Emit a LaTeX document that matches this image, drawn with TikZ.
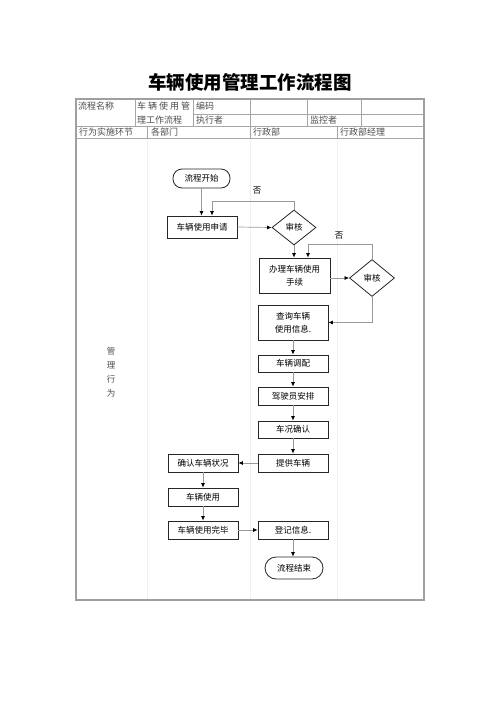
\documentclass[tikz,border=0pt]{standalone}
\usepackage{fontspec}
\setmainfont{Noto Sans CJK SC}
\usetikzlibrary{shapes.geometric,arrows.meta}
\begin{document}
\begin{tikzpicture}[x=1pt,y=-1pt,
  frame/.style={draw=gray!75,line width=1.1pt},
  grid/.style={draw=gray!70,line width=0.6pt},
  lane/.style={draw=gray!12,line width=0.8pt},
  tabtext/.style={anchor=west,inner sep=0pt,text=black!70,font=\fontsize{9}{11}\selectfont},
  box/.style={draw=black!85,line width=0.8pt,fill=white,inner sep=1pt,align=center,
    font=\fontsize{8.5}{13}\selectfont,minimum width=70pt,minimum height=18pt},
  term/.style={box,rounded corners=9pt},
  check/.style={diamond,draw=black!85,line width=0.8pt,fill=white,inner sep=0pt,aspect=1.25,
    font=\fontsize{8.5}{10}\selectfont,minimum width=44pt,minimum height=35pt},
  arr/.style={draw=gray!80,line width=0.7pt,-{Latex[length=4.5pt,width=4pt,color=black]}},
  lbl/.style={inner sep=0pt,font=\fontsize{8.5}{10}\selectfont}
]
\useasboundingbox (0,0) rectangle (500,707);
% title
\node[inner sep=0pt,font=\bfseries\fontsize{18.5}{20}\selectfont] (title) at (250,82) {车辆使用管理工作流程图};
% lanes
\draw[lane] (147,138) -- (147,600);
\draw[lane] (250,138) -- (250,600);
\draw[lane] (337,138) -- (337,600);
% table grid
\draw[grid] (193,114) -- (424,114);
\draw[grid] (76,126) -- (424,126);
\draw[grid] (76,138) -- (424,138);
\foreach \x in {135,193,250,307,361} \draw[grid] (\x,99) -- (\x,126);
\foreach \x in {147,250,337} \draw[grid] (\x,126) -- (\x,138);
\draw[frame] (76,99) rectangle (424,600);
% table texts
\node[tabtext] (t1) at (78,106.5) {流程名称};
\node[tabtext] (t2) at (137,106.5) {\makebox[53pt][s]{车\hfill 辆\hfill 使\hfill 用\hfill 管}};
\node[tabtext] (t3) at (137,120) {理工作流程};
\node[tabtext] (t4) at (196,106.5) {编码};
\node[tabtext] (t5) at (196,120) {执行者};
\node[tabtext] (t6) at (310,120) {监控者};
\node[tabtext] (t7) at (79,132) {行为实施环节};
\node[tabtext] (t8) at (151,132) {各部门};
\node[tabtext] (t9) at (253,132) {行政部};
\node[tabtext] (t10) at (340,132) {行政部经理};
\node[inner sep=0pt,align=center,text=black!70,font=\fontsize{8.5}{14}\selectfont] (side) at (111,372.5) {管\\理\\行\\为};
% flowchart nodes
\node[term,minimum width=57pt,minimum height=19pt] (start) at (201.5,178.5) {流程开始};
\node[box,minimum height=22pt] (apply) at (202,227) {车辆使用申请};
\node[check] (chk1) at (294,227.5) {审核};
\node[box,minimum width=71pt,minimum height=35pt] (proc) at (294.5,275.5) {办理车辆使用\\手续};
\node[check,minimum width=45pt,minimum height=37pt] (chk2) at (372,278) {审核};
\node[box,minimum height=35pt] (query) at (293,322.5) {查询车辆\\使用信息.};
\node[box,minimum height=17pt] (dispatch) at (293,363.5) {车辆调配};
\node[box] (driver) at (293,396) {驾驶员安排};
\node[box,minimum height=17pt] (cond) at (293,429.5) {车况确认};
\node[box] (provide) at (293,463) {提供车辆};
\node[box] (confirm) at (203,463) {确认车辆状况};
\node[box] (use) at (203,497) {车辆使用};
\node[box] (done) at (203,530) {车辆使用完毕};
\node[box] (record) at (293,530) {登记信息.};
\node[term,minimum width=58pt,minimum height=22pt,rounded corners=11pt] (end) at (294,568) {流程结束};
% labels
\node[lbl] (no1) at (257,191) {否};
\node[lbl] (no2) at (339,236) {否};
% connectors
\draw[arr] (start.south) -- (start.south |- apply.north);
\draw[arr] (chk1.north) -- ++(0,-8) -| ([xshift=10pt]apply.north);
\draw[arr] (apply.east) -- (chk1.west);
\draw[arr] (chk1.south) -- (chk1.south |- proc.north);
\draw[arr] (chk2.north) -- ++(0,-15) -| ([xshift=13.5pt]proc.north);
\draw[arr] (proc.east |- chk2.west) -- (chk2.west);
\draw[arr] (chk2.south) |- (query.east);
\draw[arr] (query) -- (dispatch);
\draw[arr] (dispatch) -- (driver);
\draw[arr] (driver) -- (cond);
\draw[arr] (cond) -- (provide);
\draw[arr] (provide) -- (confirm);
\draw[arr] (confirm) -- (use);
\draw[arr] (use) -- (done);
\draw[arr] (done) -- (record);
\draw[arr] (record.south) -- (record.south |- end.north);
\end{tikzpicture}
\end{document}
